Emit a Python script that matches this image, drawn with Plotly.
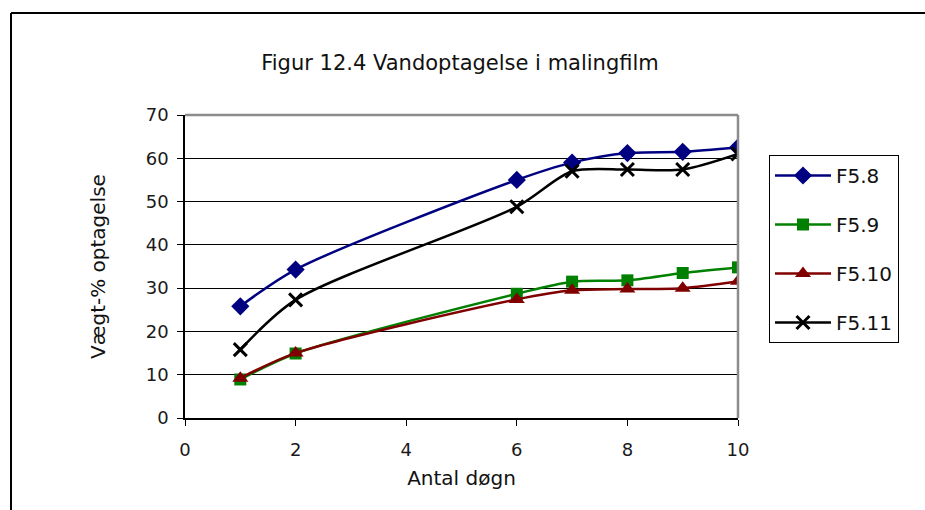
import plotly.graph_objects as go

days = [1, 2, 6, 7, 8, 9, 10]
f58 = [25.8, 34.3, 55.0, 59.0, 61.2, 61.5, 62.5]
f59 = [8.9, 14.9, 28.7, 31.5, 31.8, 33.5, 34.8]
f510 = [9.2, 15.0, 27.4, 29.5, 29.8, 30.0, 31.6]
f511 = [15.8, 27.3, 48.8, 57.0, 57.4, 57.4, 61.0]
names = ["F5.8", "F5.9", "F5.10", "F5.11"]
series = [f58, f59, f510, f511]
colors = ["#000080", "#008000", "#800000", "#000000"]
symbols = ["diamond", "square", "triangle-up", "x-thin"]
sizes = [14, 12, 14, 13]
x_ticks = [0, 2, 4, 6, 8, 10]
y_ticks = [0, 10, 20, 30, 40, 50, 60, 70]

L, R, T, B = 185, 187, 115, 92
W, H = 925, 510
pw, ph = W - L - R, H - T - B

def px_x(p):
    return (p - L) / pw

def px_y(p):
    return (H - B - p) / ph

FONT = "DejaVu Sans, Verdana, sans-serif"

fig = go.Figure()
for i, (n, s) in enumerate(zip(names, series)):
    fig.add_trace(go.Scatter(
        x=days, y=s, name=n, mode="lines+markers",
        line=dict(color=colors[i], width=2.5, shape="spline", smoothing=0.8),
        marker=dict(symbol=symbols[i], size=sizes[i], color=colors[i],
                    line=dict(color=colors[i], width=3 if symbols[i] == "x-thin" else 0)),
        legendgroup=n,
    ))

tickfont = dict(family=FONT, size=18, color="#1a1a1a")
fig.update_layout(
    width=W, height=H,
    margin=dict(l=L, r=R, t=T, b=B),
    paper_bgcolor="white", plot_bgcolor="white",
    showlegend=True,
    title=dict(text="Figur 12.4 Vandoptagelse i malingfilm",
               x=460 / W, xanchor="center", y=1 - 63 / H, yanchor="middle",
               font=dict(family=FONT, size=21, color="#111111")),
    xaxis=dict(range=[0, 10], tickvals=x_ticks, showgrid=False, zeroline=False,
               showline=True, linecolor="black", linewidth=1.5,
               ticks="outside", ticklen=6, tickcolor="black", tickwidth=1,
               tickfont=tickfont, ticklabelstandoff=9,
               title=dict(text="Antal døgn", font=dict(family=FONT, size=20, color="#111111"),
                          standoff=12)),
    yaxis=dict(range=[0, 70], tickvals=y_ticks, showgrid=True, gridcolor="black", gridwidth=1,
               zeroline=False, showline=True, linecolor="black", linewidth=1.5,
               ticks="outside", ticklen=6, tickcolor="black", tickwidth=1,
               tickfont=tickfont, ticklabelstandoff=5,
               title=dict(text="Vægt-% optagelse", font=dict(family=FONT, size=20, color="#111111"),
                          standoff=35)),
    legend=dict(x=px_x(769), y=px_y(155), xanchor="left", yanchor="top",
                bordercolor="black", borderwidth=1, bgcolor="white",
                font=dict(family=FONT, size=20, color="#111111"),
                tracegroupgap=20, itemwidth=56),
)

# gray plot border top/right
fig.add_shape(type="line", xref="paper", yref="paper", x0=0, x1=1, y0=1, y1=1,
              line=dict(color="#8c8c8c", width=2.5))
fig.add_shape(type="line", xref="paper", yref="paper", x0=1, x1=1, y0=0, y1=1,
              line=dict(color="#8c8c8c", width=2.5))
# outer chart border (left and top visible)
fig.add_shape(type="line", xref="paper", yref="paper",
              x0=px_x(11), x1=px_x(11), y0=px_y(515), y1=px_y(13),
              line=dict(color="black", width=2), layer="below")
fig.add_shape(type="line", xref="paper", yref="paper",
              x0=px_x(11), x1=px_x(926), y0=px_y(13), y1=px_y(13),
              line=dict(color="black", width=2), layer="below")

fig.write_html("out.html")
